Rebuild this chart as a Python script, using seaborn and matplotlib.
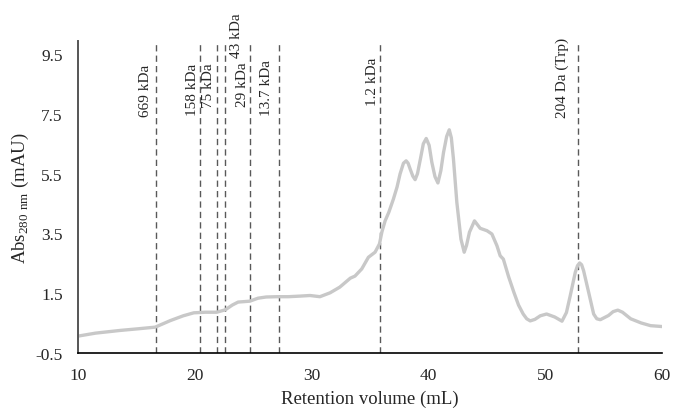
import matplotlib
matplotlib.use("Agg")
import matplotlib.pyplot as plt
import seaborn as sns
import pandas as pd

# =========================
# Data
# =========================
retention_ml = [10.0, 11.5, 13.6, 15.0, 16.6, 17.9, 19.0, 19.9, 20.9, 21.86,
                22.6, 23.2, 23.7, 24.7, 25.4, 26.1, 27.0, 28.0, 29.0, 29.85,
                30.7, 31.57, 32.4, 33.3, 33.7, 34.28, 34.85, 35.42, 35.8, 36.0,
                36.28, 36.6, 36.99, 37.3, 37.56, 37.85, 38.08, 38.25, 38.43, 38.65,
                38.85, 39.05, 39.3, 39.55, 39.8, 40.05, 40.28, 40.55, 40.8, 41.05,
                41.28, 41.55, 41.77, 41.95, 42.13, 42.42, 42.77, 43.05, 43.25, 43.5,
                43.93, 44.42, 45.0, 45.42, 45.85, 46.13, 46.4, 46.85, 47.3, 47.7,
                48.1, 48.4, 48.7, 49.1, 49.56, 50.1, 50.8, 51.42, 51.8, 52.13,
                52.56, 52.75, 52.93, 53.1, 53.27, 53.7, 54.13, 54.4, 54.7, 55.4,
                55.8, 56.2, 56.6, 57.3, 58.2, 59.0, 60.0]
absorbance = [0.06, 0.16, 0.25, 0.30, 0.36, 0.58, 0.74, 0.84, 0.86, 0.86,
              0.94, 1.10, 1.20, 1.23, 1.33, 1.37, 1.38, 1.38, 1.40, 1.42,
              1.38, 1.51, 1.70, 2.00, 2.07, 2.31, 2.70, 2.87, 3.15, 3.54,
              3.92, 4.21, 4.65, 5.05, 5.49, 5.85, 5.93, 5.85, 5.65, 5.42,
              5.30, 5.50, 5.99, 6.50, 6.68, 6.45, 5.88, 5.40, 5.19, 5.60,
              6.21, 6.75, 6.97, 6.70, 5.99, 4.54, 3.31, 2.87, 3.10, 3.54,
              3.92, 3.67, 3.59, 3.48, 3.09, 2.75, 2.64, 2.05, 1.53, 1.10,
              0.80, 0.64, 0.57, 0.62, 0.74, 0.80, 0.70, 0.56, 0.85, 1.42,
              2.20, 2.42, 2.51, 2.45, 2.25, 1.53, 0.80, 0.64, 0.61, 0.75,
              0.88, 0.93, 0.86, 0.64, 0.50, 0.41, 0.38]

marker_ml = [16.63, 20.40, 21.86, 22.54, 24.74, 27.17, 35.85, 52.83]
marker_labels = ["669 kDa", "158 kDa", "75 kDa", "43 kDa", "29 kDa",
                 "13.7 kDa", "1.2 kDa", "204 Da (Trp)"]

# label placement (offset in points from the dashed line, top of text in data units)
label_dx = [-7.2, -5.0, -5.5, 8.6, -5.5, -8.6, -5.8, -11.5]
label_top = [9.17, 9.23, 9.23, 10.9, 9.27, 9.33, 9.43, 10.07]

df = pd.DataFrame({"Retention volume (mL)": retention_ml, "Abs": absorbance})

# =========================
# Style
# =========================
sns.set_style("white")
plt.rcParams["font.family"] = ["Liberation Serif", "DejaVu Serif"]
plt.rcParams["mathtext.fontset"] = "custom"
plt.rcParams["mathtext.rm"] = "Liberation Serif"

fig = plt.figure(figsize=(6.73, 4.10), dpi=100)
ax = fig.add_axes([0.116, 0.137, 0.868, 0.761])

# =========================
# Marker lines + labels
# =========================
for x, lab, dx, top in zip(marker_ml, marker_labels, label_dx, label_top):
    ax.axvline(x, color="#595959", linestyle=(0, (4.5, 3)), linewidth=1.0, zorder=1)
    ax.annotate(lab, xy=(x, top), xytext=(dx, 0), textcoords="offset points",
                rotation=90, ha="center", va="top", fontsize=11,
                annotation_clip=False)

# =========================
# Chromatogram
# =========================
sns.lineplot(data=df, x="Retention volume (mL)", y="Abs", ax=ax,
             color="#c8c8c8", linewidth=2.4, zorder=2)
for line in ax.lines:
    line.set_solid_joinstyle("round")
    line.set_solid_capstyle("round")

ax.set_xlim(10, 60)
ax.set_ylim(-0.5, 9.95)
ax.set_xticks([10, 20, 30, 40, 50, 60])
ax.set_yticks([-0.5, 1.5, 3.5, 5.5, 7.5, 9.5])
ax.set_yticklabels(["-0.5", "1.5", "3.5", "5.5", "7.5", "9.5"])
ax.tick_params(axis="both", length=0, labelsize=12.5)
ax.tick_params(axis="y", pad=11)
ax.tick_params(axis="x", pad=10)

ax.set_xlabel("Retention volume (mL)", fontsize=13.5, labelpad=5)
ax.set_ylabel(r"Abs$_{\mathregular{280\ nm}}$ (mAU)", fontsize=13.5, labelpad=3)

for side in ["top", "right"]:
    ax.spines[side].set_visible(False)
ax.spines["left"].set_color("#555555")
ax.spines["left"].set_linewidth(1.4)
ax.spines["bottom"].set_color("black")
ax.spines["bottom"].set_linewidth(1.2)

fig.savefig("out.png", dpi=100)
